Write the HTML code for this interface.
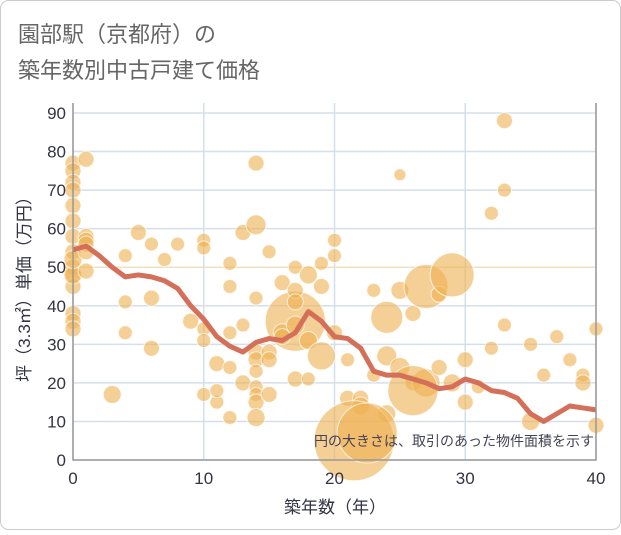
<!DOCTYPE html>
<html><head><meta charset="utf-8"><style>
body{margin:0;background:#fff;font-family:"Liberation Sans","Noto Sans CJK JP",sans-serif;}
#c{position:relative;width:621px;height:530px;}
</style></head><body>
<div id="c">
<svg id="s" width="621" height="530" xmlns="http://www.w3.org/2000/svg">
<rect x="0.5" y="0.5" width="620" height="529" rx="8" fill="#fff" stroke="#ccc"/>
<text x="18" y="42" font-size="22" fill="#666" font-family="Liberation Sans, Noto Sans CJK JP, sans-serif">園部駅（京都府）の</text>
<text x="18" y="78" font-size="22" fill="#666" font-family="Liberation Sans, Noto Sans CJK JP, sans-serif">築年数別中古戸建て価格</text>
<g id="grid"></g><g id="bubbles"></g><g id="line"></g><g id="axes"></g>
</svg>
</div>
<script>
const xTicks=[0,10,20,30,40];
const yTicks=[0,10,20,30,40,50,60,70,80,90];
const lineAges=[0,1,2,3,4,5,6,7,8,9,10,11,12,13,14,15,16,17,18,19,20,21,22,23,24,25,26,27,28,29,30,31,32,33,34,35,36,37,38,39,40];
const linePrices=[54.5,55.5,53,50,47.5,48,47.5,46.5,44.5,40,36.5,32,29.5,28,30.5,31.5,31,33,38.5,36,32,31.5,29,23,22,22,21,20,18.5,19,21,20,18,17.5,16,12,10,12,14,13.5,13];
const bubAge=[0,0,0,0,0,0,0,0,0,0,0,0,0,0,0,0,1,1,1,1,1,1,3,4,4,4,5,6,6,6,7,8,9,10,10,10,10,10,11,11,11,12,12,12,12,12,13,13,13,14,14,14,14,14,14,14,14,14,14,15,15,15,15,16,17,16,16,17,17,17,17,17,18,18,18,19,19,19,20,20,20,21,21,22,22,23,23,24,24,24,25,25,25,26,26,27,27,28,28,29,30,30,31,32,32,33,33,33,35,35,36,37,38,39,39,40,40,21.5,22.5,26,29];
const bubPrice=[77,75,72,70,66,62,58,54,50,48,45,38,36,34,48,52,78,58,57,56,49,54,17,53,41,33,59,42,29,56,52,56,36,57,55,34,31,17,25,15,18,51,45,33,24,11,59,35,20,77,61,42,28,26,23,19,17,15,11,54,28,26,17,46,36,33,32,50,44,41,35,21,48,31,21,51,45,27,57,53,33,26,16,16,14,44,22,37,27,12,74,44,24,38,20,45,20,43,24,20,26,15,19,64,29,88,70,35,30,10,22,32,26,22,20,34,9,5,7,18,48];
const bubR=[8,8,8,8,8,8,8,8,8,8,8,8,8,8,9,9,8,8,8,8,8,8,9,7,7,7,8,8,8,7,7,7,8,7,7,7,7,7,8,7,7,7,7,7,7,7,8,7,8,8,10,7,8,8,7,7,7,8,9,7,8,8,8,8,30,9,8,7,8,8,9,8,9,9,7,7,8,14,7,7,8,7,8,8,9,7,7,16,10,9,6,9,10,8,8,22,14,8,8,9,8,8,7,7,7,8,7,7,7,9,7,7,7,7,8,7,8,40,30,25,22];
const NS="http://www.w3.org/2000/svg";
const X=v=>73+v*(523/40), Y=v=>460-v*(347/90);
function mk(t,a,p){const e=document.createElementNS(NS,t);for(const k in a)e.setAttribute(k,a[k]);p.appendChild(e);return e;}
const grid=document.getElementById('grid'),axes=document.getElementById('axes');
mk('rect',{x:73,y:103,width:523,height:357,fill:'#fff'},grid);
yTicks.forEach(t=>{const l=mk('line',{x1:73,x2:596,y1:Y(t),y2:Y(t),stroke:t===50?'#f0e0c0':'#d5dfea','stroke-width':1.5},grid);


const tx=mk('text',{x:66,y:Y(t)+6,'text-anchor':'end','font-size':17,fill:'#334'},axes);tx.textContent=t;

});
xTicks.forEach(t=>{const l=mk('line',{x1:X(t),x2:X(t),y1:103,y2:460,stroke:'#d5dfea','stroke-width':1.5},grid);


const tx=mk('text',{x:X(t),y:484,'text-anchor':'middle','font-size':17,fill:'#334'},axes);tx.textContent=t;

});
const b=document.getElementById('bubbles');
bubAge.forEach((a,i)=>{const c=mk('circle',{cx:X(a),cy:Y(bubPrice[i]),r:bubR[i],fill:'rgba(238,176,80,0.6)',stroke:'rgba(255,255,255,0.7)','stroke-width':1},b);

});
const pl=mk('polyline',{points:lineAges.map((a,i)=>X(a)+','+Y(linePrices[i])).join(' '),fill:'none',stroke:'#d4705a','stroke-width':5,'stroke-linejoin':'round'},document.getElementById('line'));


const fr=mk('path',{d:'M73 103V460H596V103',fill:'none',stroke:'#999','stroke-width':1.5},axes);


const note=mk('text',{x:594,y:446,'text-anchor':'end','font-size':14,fill:'#445'},axes);note.textContent='円の大きさは、取引のあった物件面積を示す';


const xt=mk('text',{x:335,y:513,'text-anchor':'middle','font-size':17,fill:'#334'},axes);xt.textContent='築年数（年）';


const yt=mk('text',{x:0,y:0,'text-anchor':'middle','font-size':17,fill:'#334',transform:'translate(30,285) rotate(-90)'},axes);yt.textContent='坪（3.3㎡）単価（万円）';


</script>
</body></html>
